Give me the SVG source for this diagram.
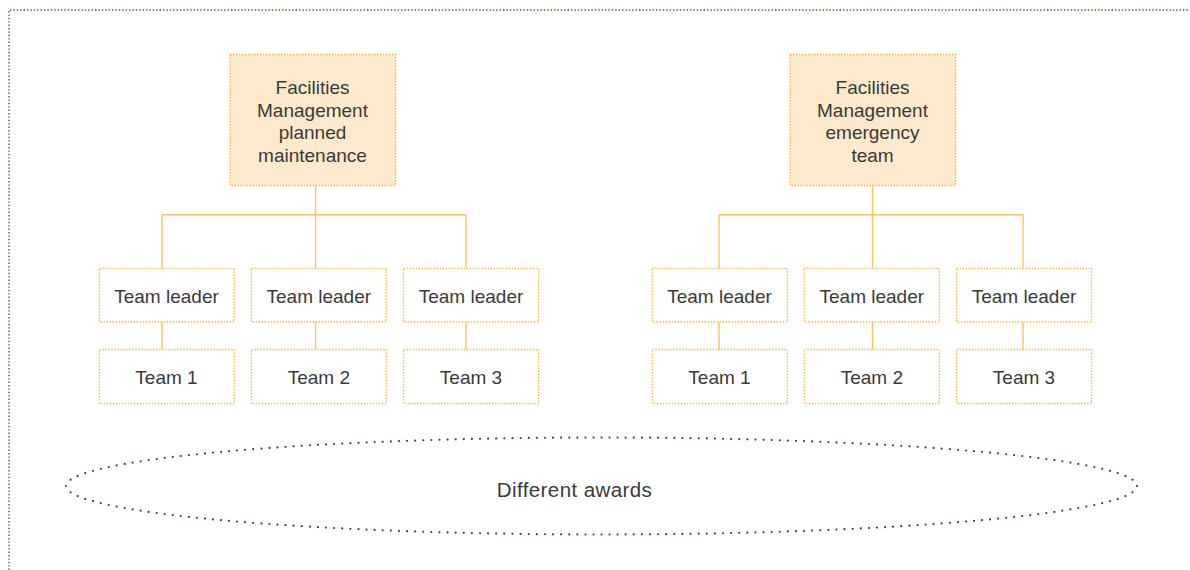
<svg xmlns="http://www.w3.org/2000/svg" width="1190" height="570" viewBox="0 0 1190 570">
  <style>
    .box { fill: #ffffff; stroke: #f8b73c; stroke-width: 1.3; stroke-dasharray: 1.4 1.6; }
    .head { fill: #fde9cc; stroke: #f8b73c; stroke-width: 1.3; stroke-dasharray: 1.4 1.6; }
    .link { fill: none; stroke: #f9c366; stroke-width: 1.4; }
    .frame { fill: none; stroke: #7a4e2d; stroke-width: 1.4; stroke-dasharray: 1.4 2; }
    .awards { fill: none; stroke: #5e3a1c; stroke-width: 2.2; stroke-linecap: round; stroke-dasharray: 0 8.1; }
    text { font-family: "Liberation Sans", Arial, sans-serif; font-size: 19px; fill: #3a3a3a; text-anchor: middle; }
    .big { font-size: 20.5px; letter-spacing: 0.4px; }
  </style>

  <!-- outer dotted frame (top and left edges) -->
  <path class="frame" d="M9,570 V10 H1190"/>

  <!-- connectors -->
  <g id="connectors">
    <path class="link" d="M315.5,185.5 V214.7 M162,214.7 H466 M162,214.7 V268 M466,214.7 V268 M315.5,214.7 V268"/>
    <path class="link" d="M162,322 V349.5 M315.5,322 V349.5 M466,322 V349.5"/>
    <path class="link" d="M872.5,185.5 V214.7 M719,214.7 H1023 M719,214.7 V268 M1023,214.7 V268 M872.5,214.7 V268"/>
    <path class="link" d="M719,322 V349.5 M872.5,322 V349.5 M1023,322 V349.5"/>
  </g>

  <!-- planned maintenance branch -->
  <g id="fm-planned">
    <rect class="head" x="230" y="54.5" width="165.5" height="131"/>
    <text x="312.5" y="94"><tspan x="312.5">Facilities</tspan><tspan x="312.5" dy="22.5">Management</tspan><tspan x="312.5" dy="22.5">planned</tspan><tspan x="312.5" dy="22.5">maintenance</tspan></text>
  </g>
  <g id="planned-leader-1"><rect class="box" x="99.3" y="268.3" width="135" height="53.7"/><text x="166.5" y="302.5">Team leader</text></g>
  <g id="planned-leader-2"><rect class="box" x="251.3" y="268.3" width="135" height="53.7"/><text x="318.8" y="302.5">Team leader</text></g>
  <g id="planned-leader-3"><rect class="box" x="403.6" y="268.3" width="135" height="53.7"/><text x="471" y="302.5">Team leader</text></g>
  <g id="planned-team-1"><rect class="box" x="99.3" y="349.5" width="135" height="54"/><text x="166.5" y="383.5">Team 1</text></g>
  <g id="planned-team-2"><rect class="box" x="251.3" y="349.5" width="135" height="54"/><text x="318.8" y="383.5">Team 2</text></g>
  <g id="planned-team-3"><rect class="box" x="403.6" y="349.5" width="135" height="54"/><text x="471" y="383.5">Team 3</text></g>

  <!-- emergency team branch -->
  <g id="fm-emergency">
    <rect class="head" x="790" y="54.5" width="165.5" height="131"/>
    <text x="872.5" y="94"><tspan x="872.5">Facilities</tspan><tspan x="872.5" dy="22.5">Management</tspan><tspan x="872.5" dy="22.5">emergency</tspan><tspan x="872.5" dy="22.5">team</tspan></text>
  </g>
  <g id="emergency-leader-1"><rect class="box" x="652.3" y="268.3" width="135" height="53.7"/><text x="719.5" y="302.5">Team leader</text></g>
  <g id="emergency-leader-2"><rect class="box" x="804.3" y="268.3" width="135" height="53.7"/><text x="871.8" y="302.5">Team leader</text></g>
  <g id="emergency-leader-3"><rect class="box" x="956.6" y="268.3" width="135" height="53.7"/><text x="1024" y="302.5">Team leader</text></g>
  <g id="emergency-team-1"><rect class="box" x="652.3" y="349.5" width="135" height="54"/><text x="719.5" y="383.5">Team 1</text></g>
  <g id="emergency-team-2"><rect class="box" x="804.3" y="349.5" width="135" height="54"/><text x="871.8" y="383.5">Team 2</text></g>
  <g id="emergency-team-3"><rect class="box" x="956.6" y="349.5" width="135" height="54"/><text x="1024" y="383.5">Team 3</text></g>

  <!-- shared award coverage -->
  <g id="awards">
    <ellipse class="awards" cx="601.5" cy="486" rx="535.5" ry="48.5"/>
    <text class="big" x="574.5" y="497">Different awards</text>
  </g>
</svg>
